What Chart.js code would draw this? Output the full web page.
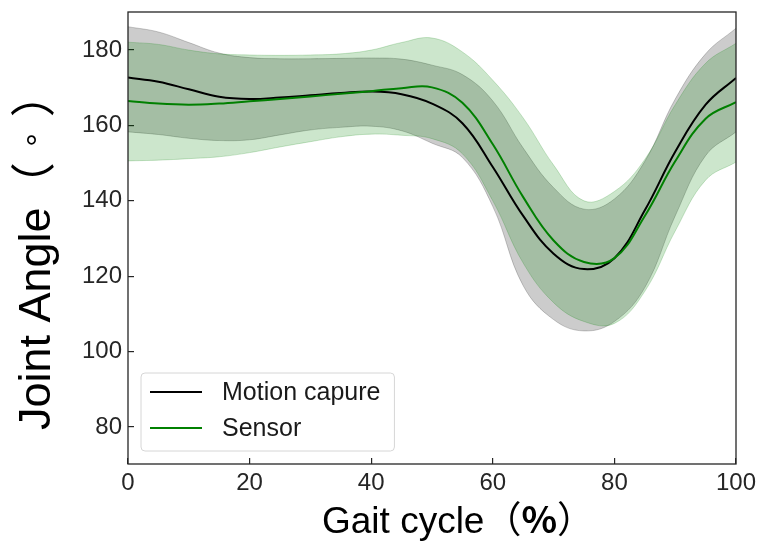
<!DOCTYPE html>
<html>
<head>
<meta charset="utf-8">
<script src="https://cdn.jsdelivr.net/npm/chart.js@4.4.1/dist/chart.umd.min.js"></script>
<style>
  html, body { margin: 0; padding: 0; background: #fff; }
  #wrap { width: 758px; height: 544px; }
</style>
</head>
<body>
<div id="wrap"><canvas id="gait" width="758" height="544"></canvas></div>
<script>
// gait cycle (%) sample positions
const gaitPct = [0, 5, 10, 15, 20, 25, 30, 35, 40, 45, 50, 55, 60, 65, 70, 75, 80, 85, 90, 95, 100];

// motion capture: mean and band limits (deg)
const motionMean  = [172.7, 171.6, 169.6, 167.6, 167.0, 167.4, 168.0, 168.6, 169.0, 168.3, 165.8, 160.6, 149.0, 136.0, 126.0, 121.9, 124.8, 137.5, 153.0, 165.5, 172.6];
const motionUpper = [186.2, 184.8, 182.0, 179.2, 178.0, 177.7, 177.7, 177.8, 177.9, 177.6, 176.0, 173.5, 166.5, 154.0, 143.5, 137.8, 140.5, 150.5, 167.0, 179.0, 185.8];
const motionLower = [158.3, 157.6, 156.6, 156.0, 156.2, 157.5, 158.8, 159.5, 159.8, 158.6, 155.3, 151.5, 138.5, 117.5, 108.5, 105.5, 108.0, 117.0, 136.0, 152.0, 158.3];

// sensor: mean and band limits (deg)
const sensorMean  = [166.5, 165.8, 165.5, 165.8, 166.4, 167.0, 167.7, 168.4, 169.1, 169.9, 170.1, 166.0, 155.0, 141.0, 129.5, 123.8, 124.8, 136.0, 150.5, 161.8, 166.2];
const sensorUpper = [182.1, 181.5, 180.0, 179.0, 178.7, 178.6, 178.7, 179.0, 180.0, 182.0, 183.2, 179.5, 172.0, 162.0, 149.5, 140.0, 142.5, 151.0, 165.5, 176.5, 181.8];
const sensorLower = [150.6, 150.8, 151.2, 151.7, 152.8, 154.3, 155.7, 157.0, 157.7, 157.4, 156.5, 152.5, 140.0, 123.5, 113.0, 108.0, 107.5, 116.0, 132.0, 145.5, 150.3];

const xTicks = [0, 20, 40, 60, 80, 100];
const yTicks = [80, 100, 120, 140, 160, 180];

const SANS = "'Liberation Sans', Arial, 'Noto Sans CJK SC', sans-serif";
const CJK = "'Noto Sans CJK SC', 'Liberation Sans', sans-serif";

function pts(ys) {
  return gaitPct.map((x, i) => ({ x: x, y: ys[i] }));
}

function band(values, fill, colour, order) {
  return {
    data: pts(values),
    fill: fill,
    backgroundColor: colour,
    borderColor: colour,
    borderWidth: 1,
    pointRadius: 0,
    tension: 0.4,
    order: order
  };
}

// box around the plot, like a matplotlib frame
const framePlugin = {
  id: 'frame',
  afterDatasetsDraw(chart) {
    const a = chart.chartArea, ctx = chart.ctx;
    ctx.save();
    ctx.strokeStyle = '#262626';
    ctx.lineWidth = 1.3;
    ctx.strokeRect(a.left, a.top, a.right - a.left, a.bottom - a.top);
    ctx.restore();
  }
};

// draws text pieces one after another along the baseline
function drawPieces(ctx, pieces, x, y) {
  let pos = x;
  pieces.forEach(p => {
    ctx.font = p.font;
    const w = ctx.measureText(p.text).width;
    const slot = p.slot || w;
    ctx.fillText(p.text, pos + (slot - w) / 2, y);
    pos += slot;
  });
}

const axisTitlePlugin = {
  id: 'axisTitles',
  afterDraw(chart) {
    const ctx = chart.ctx;
    ctx.save();
    ctx.fillStyle = '#000';
    ctx.textBaseline = 'alphabetic';
    ctx.textAlign = 'left';
    drawPieces(ctx, [
      { text: 'Gait cycle', font: '37px ' + SANS },
      { text: '（', font: '37px ' + CJK },
      { text: '%', font: 'bold 37px ' + CJK },
      { text: '）', font: '37px ' + CJK }
    ], 322, 533);

    ctx.translate(50, 430);
    ctx.rotate(-Math.PI / 2);
    drawPieces(ctx, [
      { text: 'Joint Angle', font: '45px ' + SANS },
      { text: '（', font: '45px ' + CJK },
      { text: '°', font: '34px ' + SANS, slot: 45 },
      { text: '）', font: '45px ' + CJK }
    ], 0, 0);
    ctx.restore();
  }
};

// legend box in the lower left corner of the plot
const legendPlugin = {
  id: 'cornerLegend',
  afterDraw(chart) {
    const ctx = chart.ctx, a = chart.chartArea;
    const items = chart.data.datasets.filter(d => d.label);
    const font = '25px ' + SANS;
    ctx.save();
    ctx.font = font;
    const textW = Math.max(...items.map(d => ctx.measureText(d.label).width));
    const rowH = 36;
    const boxX = a.left + 13, boxW = 81 + textW + 14;
    const boxH = rowH * items.length + 6;
    const boxY = a.bottom - 13 - boxH;

    ctx.beginPath();
    ctx.roundRect(boxX, boxY, boxW, boxH, 4);
    ctx.fillStyle = 'rgba(255,255,255,0.8)';
    ctx.fill();
    ctx.strokeStyle = '#d6d6d6';
    ctx.lineWidth = 1;
    ctx.stroke();

    items.forEach((d, i) => {
      const cy = boxY + 19 + i * rowH;
      ctx.beginPath();
      ctx.moveTo(boxX + 9, cy);
      ctx.lineTo(boxX + 61, cy);
      ctx.strokeStyle = d.borderColor;
      ctx.lineWidth = 2;
      ctx.stroke();
      ctx.fillStyle = '#1a1a1a';
      ctx.textBaseline = 'middle';
      ctx.fillText(d.label, boxX + 81, cy + 1);
    });
    ctx.restore();
  }
};

new Chart(document.getElementById('gait'), {
  type: 'line',
  data: {
    datasets: [
      {
        label: 'Motion capure',
        data: pts(motionMean),
        borderColor: '#000000',
        borderWidth: 2,
        pointRadius: 0,
        fill: false,
        tension: 0.4,
        order: 1
      },
      {
        label: 'Sensor',
        data: pts(sensorMean),
        borderColor: '#008000',
        borderWidth: 2,
        pointRadius: 0,
        fill: false,
        tension: 0.4,
        order: 0
      },
      // grey band underneath, green band on top of it
      band(motionUpper, '+1', 'rgba(0,0,0,0.2)', 3),
      band(motionLower, false, 'rgba(0,0,0,0.2)', 3),
      band(sensorUpper, '+1', 'rgba(0,128,0,0.2)', 2),
      band(sensorLower, false, 'rgba(0,128,0,0.2)', 2)
    ]
  },
  options: {
    responsive: false,
    animation: false,
    events: [],
    layout: { padding: { top: 12, right: 22, left: 0, bottom: 0 } },
    plugins: {
      legend: { display: false },
      tooltip: { enabled: false }
    },
    scales: {
      x: {
        type: 'linear',
        min: 0,
        max: 100,
        afterBuildTicks: s => { s.ticks = xTicks.map(v => ({ value: v })); },
        afterFit: s => { s.height = 80; s.paddingLeft = 0; s.paddingRight = 0; },
        border: { display: false },
        grid: { drawOnChartArea: false, tickLength: -6, color: '#262626', lineWidth: 1.2 },
        ticks: { padding: 11, color: '#262626', font: { family: SANS, size: 24 }, maxRotation: 0 }
      },
      y: {
        min: 70.2,
        max: 190.1,
        afterBuildTicks: s => { s.ticks = yTicks.map(v => ({ value: v })); },
        afterFit: s => { s.width = 128; s.paddingTop = 0; s.paddingBottom = 0; },
        border: { display: false },
        grid: { drawOnChartArea: false, tickLength: -6, color: '#262626', lineWidth: 1.2 },
        ticks: { padding: 12, color: '#262626', font: { family: SANS, size: 24 } }
      }
    }
  },
  plugins: [framePlugin, axisTitlePlugin, legendPlugin]
});
</script>
</body>
</html>
